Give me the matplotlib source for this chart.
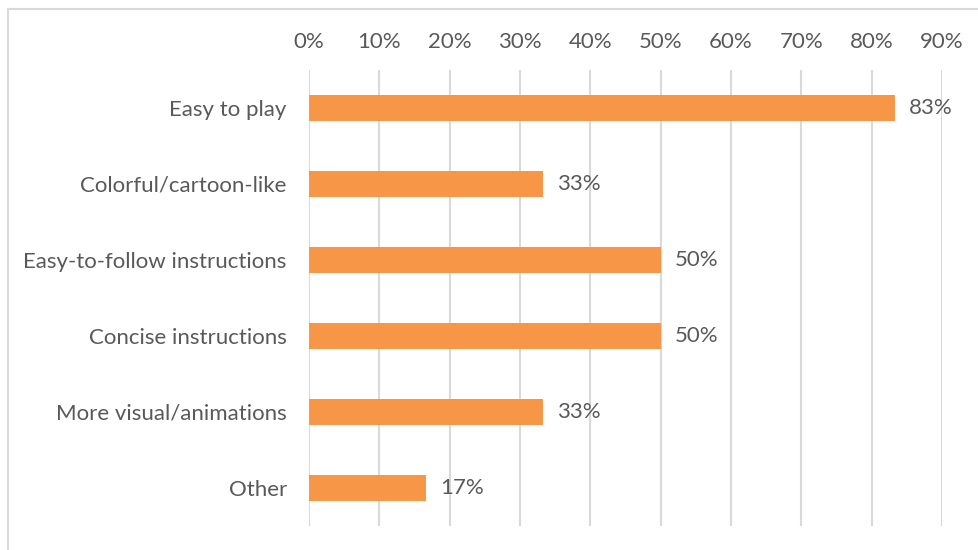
import matplotlib
matplotlib.use("Agg")
import matplotlib.pyplot as plt
from matplotlib.lines import Line2D

categories = ["Easy to play", "Colorful/cartoon-like", "Easy-to-follow instructions",
              "Concise instructions", "More visual/animations", "Other"]
shares = [0.8333, 0.3333, 0.50, 0.50, 0.3333, 0.1667]
tick_values = [0.0, 0.1, 0.2, 0.3, 0.4, 0.5, 0.6, 0.7, 0.8, 0.9]
tick_labels = ["0%", "10%", "20%", "30%", "40%", "50%", "60%", "70%", "80%", "90%"]

W, H = 979, 550
text_color = "#595959"
grid_color = "#D9D9D9"
bar_color = "#F79646"
plt.rcParams["font.family"] = ["Lato", "DejaVu Sans"]
fs = 16

fig = plt.figure(figsize=(W / 100, H / 100), dpi=100)
ax = fig.add_axes([309 / W, 1 - 526 / H, (942 - 309) / W, (526 - 70) / H])

ypos = list(range(len(categories)))
ax.barh(ypos, shares, height=0.34, color=bar_color, zorder=3)
ax.set_ylim(len(categories) - 0.5, -0.5)
ax.set_xlim(0, 0.9)

for y, v in zip(ypos, shares):
    ax.text(v + 0.02, y, f"{round(v * 100):.0f}%", va="center", ha="left",
            fontsize=fs, color=text_color, zorder=4)

ax.set_yticks(ypos)
ax.set_yticklabels(categories, fontsize=fs, color=text_color)
ax.set_xticks(tick_values)
ax.set_xticklabels(tick_labels, fontsize=fs, color=text_color)
ax.xaxis.tick_top()
ax.tick_params(axis="both", length=0)
ax.tick_params(axis="x", pad=13)
ax.tick_params(axis="y", pad=16)
ax.grid(axis="x", color=grid_color, linewidth=1.5, zorder=0)
for s in ax.spines.values():
    s.set_visible(False)

# chart frame: only top and left edges fall inside the canvas
fig.add_artist(Line2D([8.5 / W, 8.5 / W], [0, 1 - 8.5 / H], transform=fig.transFigure,
                      color=grid_color, linewidth=1.5))
fig.add_artist(Line2D([8.5 / W, 1], [1 - 8.5 / H, 1 - 8.5 / H], transform=fig.transFigure,
                      color=grid_color, linewidth=1.5))

fig.savefig("out.png", dpi=100)
